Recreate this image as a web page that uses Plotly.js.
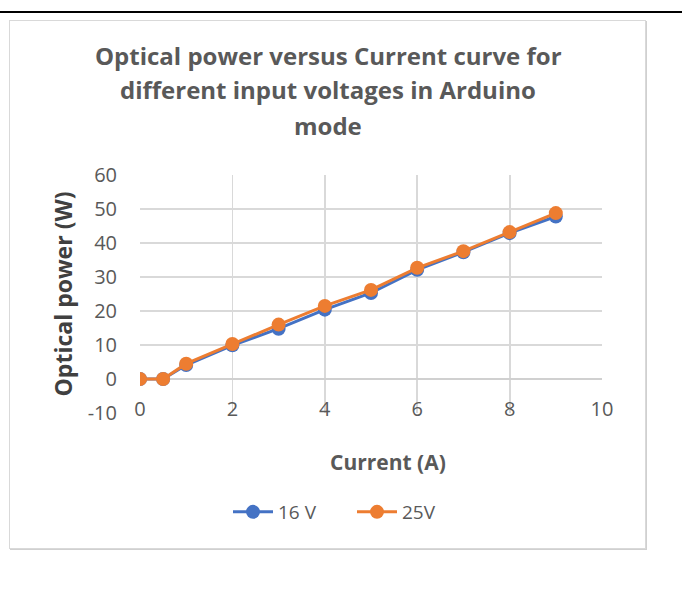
<!DOCTYPE html>
<html>
<head>
<meta charset="utf-8">
<script src="https://cdn.plot.ly/plotly-3.0.1.min.js"></script>
<style>
  html, body { margin: 0; padding: 0; background: #ffffff; }
  #wrap { position: relative; width: 682px; height: 608px; overflow: hidden; }
  #topline { position: absolute; left: 0; top: 11px; width: 682px; height: 2px; background: #000; }
  #frame { position: absolute; left: 9px; top: 20px; width: 635px; height: 527px; border: 1px solid #d9d9d9; box-shadow: 1px 1px 0 #d0d0d0; pointer-events: none; }
  #chart { position: absolute; left: 0; top: 0; width: 682px; height: 608px; }
</style>
</head>
<body>
<div id="wrap">
  <div id="topline"></div>
  <div id="frame"></div>
  <div id="chart"></div>
</div>
<script>
const current = [0, 0.5, 1, 2, 3, 4, 5, 6, 7, 8, 9];
const power16V = [0, 0, 4.1, 9.9, 14.8, 20.4, 25.3, 32.1, 37.3, 42.9, 47.8];
const power25V = [0, 0, 4.5, 10.3, 16.0, 21.5, 26.2, 32.7, 37.6, 43.2, 48.8];
const seriesNames = ['16 V', '25V'];
const yTickValues = [-10, 0, 10, 20, 30, 40, 50, 60];
const yTickLabels = ['-10', '0', '10', '20', '30', '40', '50', '60'];
const titleLines = ['Optical power versus Current curve for', 'different input voltages in Arduino', 'mode'];

const grey = '#595959';
const fam = 'Open Sans, sans-serif';
const traces = [
  { x: current, y: power16V, name: seriesNames[0], type: 'scatter', mode: 'lines+markers',
    line: { color: '#4472C4', width: 3 }, marker: { color: '#4472C4', size: 14 } },
  { x: current, y: power25V, name: seriesNames[1], type: 'scatter', mode: 'lines+markers',
    line: { color: '#ED7D31', width: 3 }, marker: { color: '#ED7D31', size: 14 } }
];

const titleFont = { family: fam, size: 24, color: grey, weight: 700 };
const annotations = titleLines.map((t, i) => ({
  text: t, xref: 'paper', yref: 'paper', x: (328 - 140) / 462, xanchor: 'center',
  y: 1 + (175 - (55 + 35 * i)) / 238, yanchor: 'middle', showarrow: false, font: titleFont
}));
annotations.push({
  text: 'Current (A)', xref: 'paper', yref: 'paper', x: (388 - 140) / 462, xanchor: 'center',
  y: -(462 - 413) / 238, yanchor: 'middle', showarrow: false,
  font: { family: fam, size: 21, color: grey, weight: 700 }
});

const layout = {
  width: 682, height: 608,
  margin: { l: 140, r: 80, t: 175, b: 195 },
  paper_bgcolor: 'rgba(0,0,0,0)', plot_bgcolor: 'rgba(0,0,0,0)',
  showlegend: true,
  legend: { orientation: 'h', x: (352 - 140) / 462, xanchor: 'center', y: -(512 - 413) / 238, yanchor: 'middle',
            font: { family: fam, size: 19, color: grey }, itemwidth: 40, entrywidth: 69 },
  xaxis: {
    range: [0, 10], dtick: 2, tick0: 0, showgrid: true, gridcolor: '#d9d9d9', gridwidth: 1.8,
    zeroline: false, showline: false, ticks: '', anchor: 'free', position: 18 / 238,
    tickfont: { family: fam, size: 20, color: grey }, fixedrange: true
  },
  yaxis: {
    range: [-10, 60], tickmode: 'array', tickvals: yTickValues, ticktext: yTickLabels,
    showgrid: true, gridcolor: '#d9d9d9', gridwidth: 1.8,
    zeroline: true, zerolinecolor: '#d0d0d0', zerolinewidth: 1.8, showline: false,
    ticks: 'outside', ticklen: 18, tickcolor: 'rgba(0,0,0,0)',
    tickfont: { family: fam, size: 20, color: grey },
    title: { text: 'Optical power (W)', standoff: 8,
             font: { family: fam, size: 23, color: '#404040', weight: 700 } },
    fixedrange: true
  },
  annotations: annotations
};

Plotly.newPlot('chart', traces, layout, { displayModeBar: false, staticPlot: true });
</script>
</body>
</html>
